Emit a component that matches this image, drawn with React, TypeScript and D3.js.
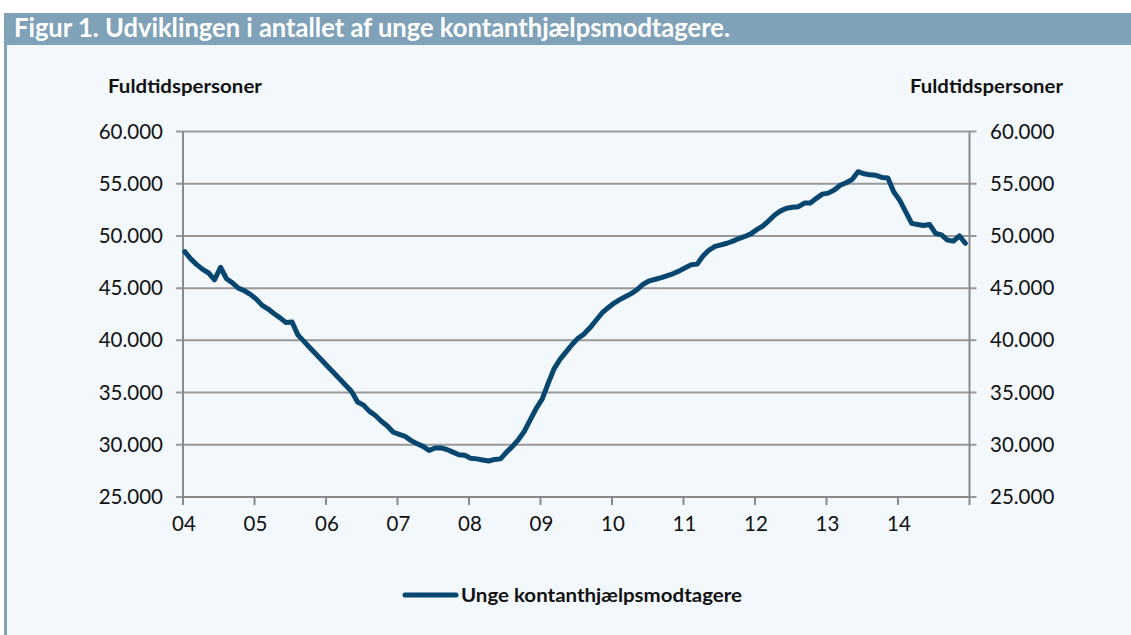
import React from "react";
import * as d3 from "d3";

const title = "Figur 1. Udviklingen i antallet af unge kontanthjælpsmodtagere.";
const axisTitle = "Fuldtidspersoner";
const seriesName = "Unge kontanthjælpsmodtagere";
const startYear = 2004;
const xTickLabels = ["04", "05", "06", "07", "08", "09", "10", "11", "12", "13", "14"];
const yTicks = [25000, 30000, 35000, 40000, 45000, 50000, 55000, 60000];

// Monthly values Jan 2004 – Dec 2014
const values2004 = [48500, 47800, 47250, 46800, 46450, 45800, 47000, 45900, 45500, 45000, 44750, 44400];
const values2005 = [43950, 43350, 43000, 42550, 42150, 41700, 41750, 40500, 39900, 39300, 38700, 38100];
const values2006 = [37500, 36900, 36300, 35700, 35100, 34100, 33800, 33200, 32800, 32250, 31800, 31200];
const values2007 = [31000, 30800, 30400, 30100, 29850, 29450, 29700, 29700, 29550, 29300, 29050, 29000];
const values2008 = [28700, 28650, 28550, 28450, 28600, 28650, 29300, 29850, 30500, 31300, 32400, 33500];
const values2009 = [34400, 35900, 37300, 38200, 38900, 39600, 40200, 40600, 41200, 41900, 42600, 43100];
const values2010 = [43550, 43900, 44200, 44500, 44900, 45400, 45700, 45850, 46000, 46200, 46400, 46650];
const values2011 = [46950, 47250, 47300, 48100, 48650, 49000, 49150, 49300, 49500, 49750, 49950, 50200];
const values2012 = [50600, 50950, 51450, 52000, 52400, 52650, 52750, 52800, 53150, 53150, 53600, 54000];
const values2013 = [54100, 54400, 54850, 55100, 55400, 56150, 55950, 55850, 55800, 55600, 55550, 54200];
const values2014 = [53400, 52300, 51200, 51100, 51000, 51100, 50250, 50100, 49600, 49500, 50000, 49300];

const allValues = [
  ...values2004, ...values2005, ...values2006, ...values2007, ...values2008, ...values2009,
  ...values2010, ...values2011, ...values2012, ...values2013, ...values2014,
];

const W = 1131;
const H = 635;
const left = 183;
const right = 969.5;
const top = 131.5;
const bottom = 497;

const headerColor = "#80a2b8";
const bgColor = "#f3f8fc";
const lineColor = "#07476f";
const gridColor = "#999999";
const axisColor = "#8a8a8a";
const fontTick = "Lato, 'Open Sans', sans-serif";

export default function App() {
  const x = d3.scaleLinear().domain([startYear, startYear + 11]).range([left, right]);
  const y = d3.scaleLinear().domain([25000, 60000]).range([bottom, top]);
  const data = allValues.map((v, i) => ({ t: startYear + (i + 0.3) / 12, v }));
  const line = d3
    .line<{ t: number; v: number }>()
    .x((d) => x(d.t))
    .y((d) => y(d.v))
    .curve(d3.curveLinear);
  const xTicks = d3.range(0, 12).map((i) => startYear + i);
  const fmt = (v: number) => d3.format(",")(v).replace(/,/g, ".");

  return (
    <svg
      width={W}
      height={H}
      style={{ position: "absolute", left: 0, top: 0, display: "block" }}
    >
      <rect x={0} y={0} width={W} height={H} fill="#ffffff" />
      <rect x={4} y={13} width={W - 4} height={H - 13} fill={bgColor} />
      <rect x={4} y={13} width={W - 4} height={32} fill={headerColor} />
      <rect x={4} y={13} width={3} height={H - 13} fill={headerColor} />
      <text
        x={14}
        y={37}
        fill="#ffffff"
        fontFamily="Lato, sans-serif"
        fontWeight={700}
        fontSize={27}
        textLength={716}
        lengthAdjust="spacingAndGlyphs"
      >
        {title}
      </text>

      {/* axis titles */}
      <text x={108} y={93} fontFamily="Lato, sans-serif" fontWeight={700} fontSize={18.5} fill="#111" textLength={154} lengthAdjust="spacingAndGlyphs">
        {axisTitle}
      </text>
      <text x={910} y={93} fontFamily="Lato, sans-serif" fontWeight={700} fontSize={18.5} fill="#111" textLength={153} lengthAdjust="spacingAndGlyphs">
        {axisTitle}
      </text>

      {/* gridlines and y ticks */}
      {yTicks.map((t) => (
        <g key={t}>
          <line x1={left - 7} x2={right + 7} y1={y(t)} y2={y(t)} stroke={gridColor} strokeWidth={2} />
          <text x={163} y={y(t) + 7} textAnchor="end" fontFamily={fontTick} fontSize={20.5} fill="#111">
            {fmt(t)}
          </text>
          <text x={990} y={y(t) + 7} textAnchor="start" fontFamily={fontTick} fontSize={20.5} fill="#111">
            {fmt(t)}
          </text>
        </g>
      ))}

      {/* axes */}
      <line x1={left} x2={left} y1={top} y2={bottom} stroke={axisColor} strokeWidth={2} />
      <line x1={right} x2={right} y1={top} y2={bottom} stroke={axisColor} strokeWidth={2} />
      <line x1={left} x2={right} y1={bottom} y2={bottom} stroke={axisColor} strokeWidth={2} />
      {xTicks.map((t) => (
        <line key={t} x1={x(t)} x2={x(t)} y1={bottom} y2={bottom + 8} stroke={axisColor} strokeWidth={2} />
      ))}
      {xTickLabels.map((lab, i) => (
        <text
          key={lab}
          x={x(startYear + i) + 1}
          y={531}
          textAnchor="middle"
          fontFamily={fontTick}
          fontSize={20.5}
          fill="#111"
        >
          {lab}
        </text>
      ))}

      {/* series */}
      <path
        d={line(data) || ""}
        fill="none"
        stroke={lineColor}
        strokeWidth={5}
        strokeLinejoin="round"
        strokeLinecap="round"
      />

      {/* legend */}
      <line x1={405} x2={456} y1={595} y2={595} stroke={lineColor} strokeWidth={5} strokeLinecap="round" />
      <text x={461} y={602} fontFamily="Lato, sans-serif" fontWeight={700} fontSize={19} fill="#111" textLength={281} lengthAdjust="spacingAndGlyphs">
        {seriesName}
      </text>
    </svg>
  );
}
